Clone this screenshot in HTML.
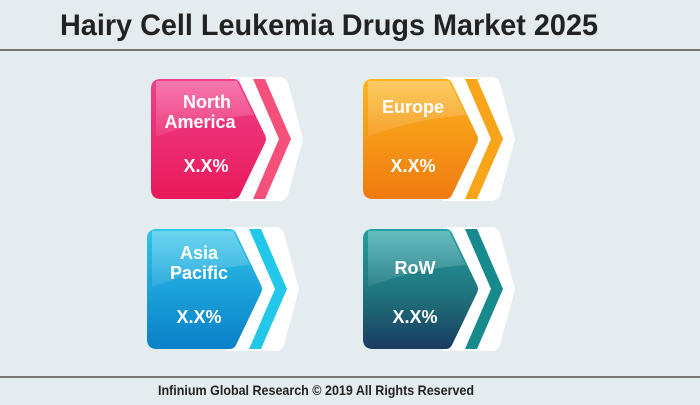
<!DOCTYPE html>
<html><head><style>
body{margin:0;width:700px;height:400px;background:#e4ecef;overflow:hidden;font-family:"Liberation Sans",sans-serif}
</style></head><body>
<svg width="700" height="400" viewBox="0 0 700 400" xmlns="http://www.w3.org/2000/svg">
<defs>
<linearGradient id="gP" x1="0" y1="0" x2="0" y2="1"><stop offset="0" stop-color="#f0408a"/><stop offset="1" stop-color="#e8195a"/></linearGradient>
<linearGradient id="gO" x1="0" y1="0" x2="0" y2="1"><stop offset="0" stop-color="#fbb520"/><stop offset="1" stop-color="#f07a10"/></linearGradient>
<linearGradient id="gB" x1="0" y1="0" x2="0" y2="1"><stop offset="0" stop-color="#2ec4ea"/><stop offset="1" stop-color="#0a80c8"/></linearGradient>
<linearGradient id="gT" x1="0" y1="0" x2="0" y2="1"><stop offset="0" stop-color="#25a0a4"/><stop offset="0.6" stop-color="#1e6e78"/><stop offset="1" stop-color="#1a3a60"/></linearGradient>
<linearGradient id="gl" x1="0" y1="0" x2="0" y2="1"><stop offset="0" stop-color="#fff" stop-opacity="0.3"/><stop offset="1" stop-color="#fff" stop-opacity="0.08"/></linearGradient>
</defs>
<text x="60" y="35" font-size="30" font-weight="bold" fill="#222" textLength="538" lengthAdjust="spacingAndGlyphs">Hairy Cell Leukemia Drugs Market 2025</text>
<rect x="0" y="49" width="700" height="2" fill="#777"/>
<rect x="0" y="376" width="700" height="2" fill="#777"/>
<text x="158" y="395" font-size="14" font-weight="bold" fill="#222" textLength="316" lengthAdjust="spacingAndGlyphs">Infinium Global Research © 2019 All Rights Reserved</text>

<g id="c1" transform="translate(151,79)">
<path d="M80,-2 H128 Q134,-2 137,4 L152,60 L137,116 Q134,122 128,122 H80 Z" fill="#fff"/>
<polygon points="102,0 114,0 140,60 114,120 102,120 128,60" fill="#f5507a"/>
<path d="M10,0 H83 Q87,0 89,4 L114,56 Q116,60 114,64 L89,116 Q87,120 83,120 H10 Q0,120 0,110 V10 Q0,0 10,0 Z" fill="url(#gP)"/>
<path d="M5,2 H86 L103,36 Q50,40 5,58 Z" fill="url(#gl)"/>
<text x="56" y="29" font-size="18" font-weight="bold" fill="#fff" text-anchor="middle">North</text>
<text x="49" y="49" font-size="18" font-weight="bold" fill="#fff" text-anchor="middle">America</text>
<text x="55" y="93" font-size="18" font-weight="bold" fill="#fff" text-anchor="middle">X.X%</text>
</g>
<g transform="translate(363,79)">
<path d="M80,-2 H128 Q134,-2 137,4 L152,60 L137,116 Q134,122 128,122 H80 Z" fill="#fff"/>
<polygon points="102,0 114,0 140,60 114,120 102,120 128,60" fill="#f9a51a"/>
<path d="M10,0 H83 Q87,0 89,4 L114,56 Q116,60 114,64 L89,116 Q87,120 83,120 H10 Q0,120 0,110 V10 Q0,0 10,0 Z" fill="url(#gO)"/>
<path d="M5,2 H86 L103,36 Q50,40 5,58 Z" fill="url(#gl)"/>
<text x="50" y="34" font-size="18" font-weight="bold" fill="#fff" text-anchor="middle">Europe</text>
<text x="50" y="93" font-size="18" font-weight="bold" fill="#fff" text-anchor="middle">X.X%</text>
</g>
<g transform="translate(147,229)">
<path d="M80,-2 H128 Q134,-2 137,4 L152,60 L137,116 Q134,122 128,122 H80 Z" fill="#fff"/>
<polygon points="102,0 114,0 140,60 114,120 102,120 128,60" fill="#22c8ea"/>
<path d="M10,0 H83 Q87,0 89,4 L114,56 Q116,60 114,64 L89,116 Q87,120 83,120 H10 Q0,120 0,110 V10 Q0,0 10,0 Z" fill="url(#gB)"/>
<path d="M5,2 H86 L103,36 Q50,40 5,58 Z" fill="url(#gl)"/>
<text x="52" y="30" font-size="18" font-weight="bold" fill="#fff" text-anchor="middle">Asia</text>
<text x="52" y="50" font-size="18" font-weight="bold" fill="#fff" text-anchor="middle">Pacific</text>
<text x="52" y="94" font-size="18" font-weight="bold" fill="#fff" text-anchor="middle">X.X%</text>
</g>
<g transform="translate(363,229)">
<path d="M80,-2 H128 Q134,-2 137,4 L152,60 L137,116 Q134,122 128,122 H80 Z" fill="#fff"/>
<polygon points="102,0 114,0 140,60 114,120 102,120 128,60" fill="#168a8c"/>
<path d="M10,0 H83 Q87,0 89,4 L114,56 Q116,60 114,64 L89,116 Q87,120 83,120 H10 Q0,120 0,110 V10 Q0,0 10,0 Z" fill="url(#gT)"/>
<path d="M5,2 H86 L103,36 Q50,40 5,58 Z" fill="url(#gl)"/>
<text x="52" y="45" font-size="18" font-weight="bold" fill="#fff" text-anchor="middle">RoW</text>
<text x="52" y="94" font-size="18" font-weight="bold" fill="#fff" text-anchor="middle">X.X%</text>
</g>
</svg>
</body></html>
